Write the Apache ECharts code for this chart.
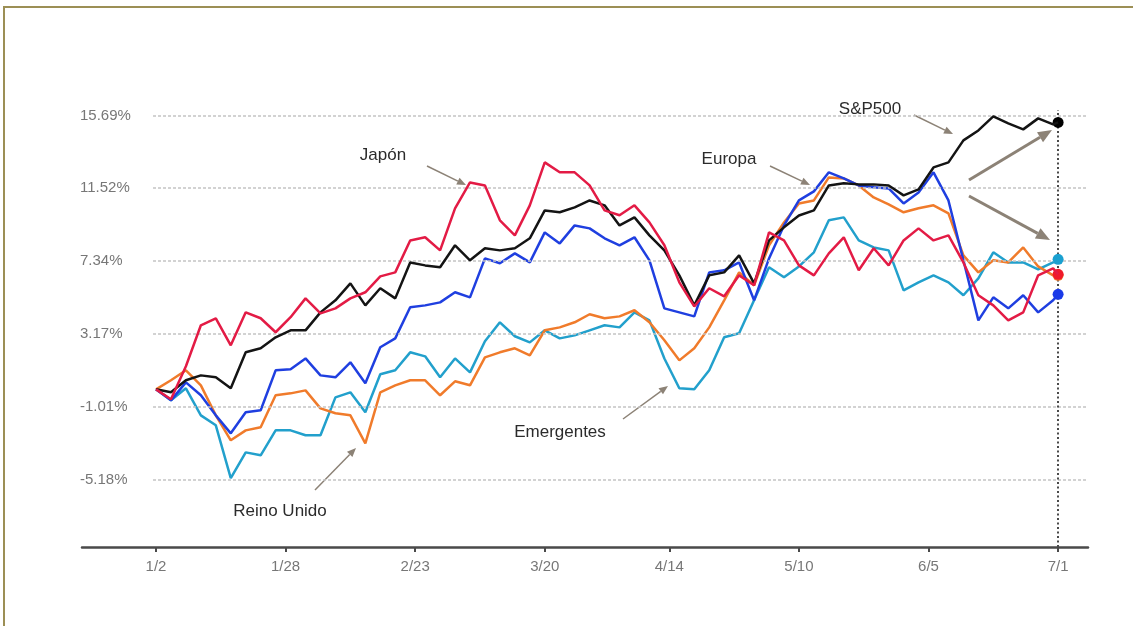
<!DOCTYPE html>
<html>
<head>
<meta charset="utf-8">
<script src="https://cdn.jsdelivr.net/npm/echarts@6/dist/echarts.min.js"></script>
<style>
  html, body { margin: 0; padding: 0; background: #fff; }
  #frame { position: absolute; left: 3px; top: 6px; width: 1140px; height: 640px;
           border-top: 2px solid #9c8f55; border-left: 2px solid #9c8f55; }
  #chart { position: absolute; left: 0; top: 0; width: 1133px; height: 626px; }
</style>
</head>
<body>
<div id="frame"></div>
<div id="chart"></div>
<script>
// days since 2 Jan 2024
const days = [0, 3, 6, 9, 12, 15, 18, 21, 24, 27, 30, 33, 36, 39, 42, 45, 48, 51, 54, 57,
  60, 63, 66, 69, 72, 75, 78, 81, 84, 87, 90, 93, 96, 99, 102, 105, 108, 111, 114, 117,
  120, 123, 126, 129, 132, 135, 138, 141, 144, 147, 150, 153, 156, 159, 162, 165, 168, 171, 174, 177,
  180, 181];

const tickDays = [0, 26, 52, 78, 103, 129, 155, 181];
const tickLabels = ["1/2", "1/28", "2/23", "3/20", "4/14", "5/10", "6/5", "7/1"];
const yTicks = [-5.18, -1.01, 3.17, 7.34, 11.52, 15.69];

const sp500 = [0, -0.17, 0.52, 0.80, 0.69, 0.06, 2.12, 2.35, 2.98, 3.38,
  3.38, 4.41, 5.10, 6.07, 4.81, 5.79, 5.21, 7.27, 7.10, 6.99,
  8.25, 7.39, 8.08, 7.96, 8.08, 8.65, 10.25, 10.14, 10.42, 10.82,
  10.54, 9.39, 9.85, 8.82, 7.96, 6.53, 4.81, 6.53, 6.70, 7.67,
  6.07, 8.53, 9.28, 9.96, 10.25, 11.68, 11.80, 11.74, 11.74, 11.68,
  11.11, 11.45, 12.71, 13.00, 14.26, 14.83, 15.63, 15.23, 14.89, 15.52,
  15.18, 15.29];

const japon = [0, -0.57, 1.32, 3.67, 4.07, 2.52, 4.41, 4.07, 3.27, 4.13,
  5.21, 4.35, 4.64, 5.21, 5.56, 6.47, 6.70, 8.53, 8.71, 7.96,
  10.37, 11.85, 11.68, 9.68, 8.82, 10.54, 13.00, 12.43, 12.43, 11.68,
  10.25, 9.97, 10.54, 9.56, 8.25, 6.13, 4.75, 5.79, 5.33, 6.53,
  5.96, 8.99, 8.53, 7.10, 6.53, 7.79, 8.71, 6.82, 8.08, 7.10,
  8.53, 9.22, 8.53, 8.82, 7.27, 5.39, 4.81, 3.95, 4.41, 6.53,
  6.93, 6.59];

const europa = [0, -0.63, 0.40, -0.34, -1.49, -2.52, -1.31, -1.20, 1.09, 1.15,
  1.77, 0.80, 0.69, 1.55, 0.35, 2.41, 2.92, 4.70, 4.81, 4.98,
  5.56, 5.27, 7.50, 7.22, 7.79, 7.27, 8.99, 8.36, 9.39, 9.22,
  8.65, 8.25, 8.71, 7.39, 4.64, 4.41, 4.18, 6.70, 6.82, 7.27,
  5.10, 7.50, 9.39, 10.82, 11.34, 12.43, 12.08, 11.68, 11.57, 11.51,
  10.65, 11.28, 12.43, 10.82, 7.39, 3.95, 5.27, 4.64, 5.39, 4.41,
  5.10, 5.44];

const reinoUnido = [0, 0.52, 1.09, 0.23, -1.49, -2.92, -2.35, -2.17, -0.34, -0.23,
  -0.06, -1.09, -1.37, -1.49, -3.09, -0.17, 0.23, 0.52, 0.52, -0.34,
  0.46, 0.23, 1.83, 2.12, 2.35, 1.95, 3.38, 3.55, 3.84, 4.30,
  4.07, 4.18, 4.53, 3.84, 2.81, 1.66, 2.35, 3.55, 5.10, 6.70,
  5.96, 8.25, 9.56, 10.65, 10.82, 12.14, 12.08, 11.68, 10.99, 10.59,
  10.14, 10.37, 10.54, 10.08, 7.67, 6.70, 7.39, 7.27, 8.13, 7.04,
  6.53, 6.53];

const emergentes = [0, -0.63, 0.06, -1.49, -2.06, -5.09, -3.61, -3.78, -2.35, -2.35,
  -2.63, -2.63, -0.46, -0.17, -1.31, 0.86, 1.09, 2.12, 1.89, 0.69,
  1.77, 0.97, 2.75, 3.84, 3.04, 2.69, 3.38, 2.92, 3.09, 3.38,
  3.67, 3.55, 4.41, 3.95, 1.77, 0.06, 0.00, 1.09, 2.98, 3.21,
  5.10, 6.99, 6.42, 7.04, 7.85, 9.68, 9.85, 8.53, 8.13, 7.96,
  5.67, 6.13, 6.53, 6.13, 5.39, 6.36, 7.85, 7.27, 7.27, 6.87,
  7.27, 7.45];

const FONT = "'Liberation Sans', Arial, sans-serif";
const ARROW = "#8c8276";

function lineSeries(name, vals, color, dot, z) {
  const last = vals.length - 1;
  return {
    name, type: "line", z,
    data: days.map((d, i) => [d, vals[i]]),
    showSymbol: false, symbol: "none",
    lineStyle: { color, width: 2.5 },
    itemStyle: { color },
    markPoint: {
      symbol: "circle", symbolSize: 11,
      itemStyle: { color: dot },
      label: { show: false },
      data: [{ coord: [days[last], vals[last]] }],
    },
  };
}

function arrow(x1, y1, x2, y2, w, h) {
  const a = Math.atan2(y2 - y1, x2 - x1);
  const bx = x2 - h * Math.cos(a), by = y2 - h * Math.sin(a);
  const px = Math.sin(a) * h * 0.42, py = -Math.cos(a) * h * 0.42;
  return [
    { type: "line", shape: { x1, y1, x2: bx, y2: by }, style: { stroke: ARROW, lineWidth: w } },
    { type: "polygon", shape: { points: [[x2, y2], [bx + px, by + py], [bx - px, by - py]] }, style: { fill: ARROW } },
  ];
}

function note(text, x, y) {
  return { type: "text", x, y, style: { text, fontSize: 17, fontFamily: FONT, fill: "#2b2b2b", align: "center", verticalAlign: "middle" } };
}

const chart = echarts.init(document.getElementById("chart"), null, { renderer: "canvas" });

chart.setOption({
  animation: false,
  backgroundColor: "transparent",
  textStyle: { fontFamily: FONT },
  grid: { left: 82, right: 45, top: 110, bottom: 79 },
  xAxis: {
    type: "value", min: -14.85, max: 187,
    splitLine: { show: false },
    axisLine: { onZero: false, lineStyle: { color: "#4a4a4a", width: 2.5 } },
    axisTick: { customValues: tickDays, length: 5, lineStyle: { color: "#4a4a4a", width: 2 } },
    axisLabel: {
      customValues: tickDays, margin: 12, color: "#777", fontSize: 15,
      formatter: v => tickLabels[tickDays.indexOf(v)] || "",
    },
  },
  yAxis: {
    type: "value", min: -9.03, max: 16,
    axisLine: { show: false },
    axisTick: { show: false },
    splitLine: { show: false },
    axisLabel: {
      inside: true, margin: -2, customValues: yTicks, color: "#777", fontSize: 15,
      formatter: v => v.toFixed(2) + "%",
    },
  },
  series: [
    {
      name: "guides", type: "line", z: 1, data: [[0, 0]], symbol: "none", silent: true,
      lineStyle: { opacity: 0 },
      markLine: {
        silent: true, symbol: "none", label: { show: false },
        lineStyle: { color: "#c4c4c4", width: 1.5, type: [3, 2] },
        data: yTicks.map(v => [{ coord: [-0.6, v] }, { coord: [187, v] }]).concat([
          [{ coord: [181, -9.03], lineStyle: { color: "#4a4a4a", width: 2, type: [2, 2.5] } },
           { coord: [181, 16] }],
        ]),
      },
    },
    lineSeries("Emergentes", emergentes, "#22a0cc", "#1aa0d0", 2),
    lineSeries("Reino Unido", reinoUnido, "#f07b2b", "#f07b2b", 3),
    lineSeries("Europa", europa, "#1f3fe0", "#1a3ae8", 4),
    lineSeries("S&P500", sp500, "#141414", "#000", 5),
    lineSeries("Japón", japon, "#e31b45", "#f01a2a", 6),
  ],
  graphic: [
    note("S&P500", 870, 109),
    note("Japón", 383, 155),
    note("Europa", 729, 159),
    note("Emergentes", 560, 432),
    note("Reino Unido", 280, 511),
    ...arrow(914, 115, 953, 134, 1.5, 9),
    ...arrow(427, 166, 466, 185, 1.5, 9),
    ...arrow(770, 166, 810, 185, 1.5, 9),
    ...arrow(623, 419, 668, 386, 1.5, 9),
    ...arrow(315, 490, 356, 448, 1.5, 9),
    ...arrow(969, 180, 1052, 130, 3, 14),
    ...arrow(969, 196, 1050, 240, 3, 14),
  ],
});
</script>
</body>
</html>
